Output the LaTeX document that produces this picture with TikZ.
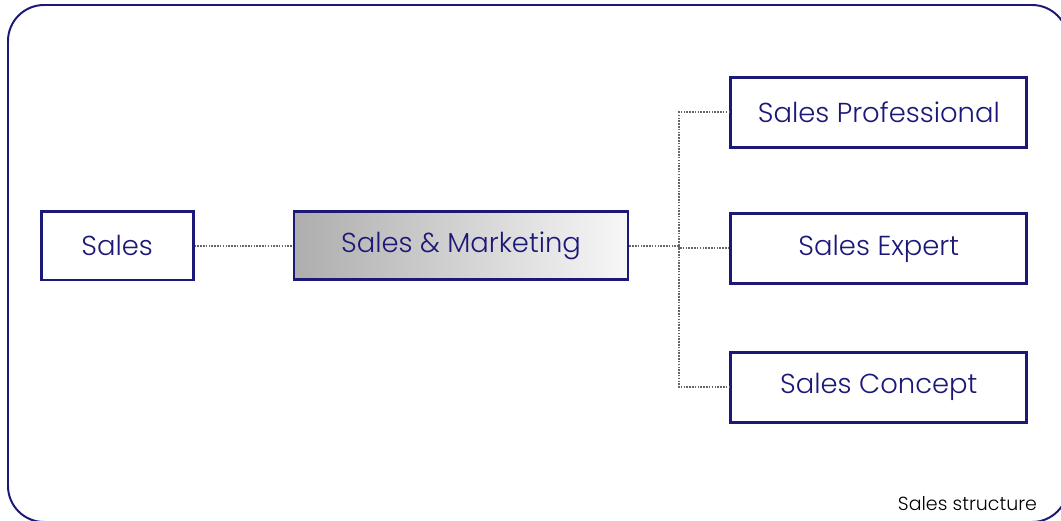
\documentclass[tikz,border=0pt]{standalone}
\usepackage{fontspec}
\setmainfont{Poppins}[UprightFont={* Light}]
\usetikzlibrary{positioning}

\definecolor{navyline}{RGB}{28,24,120}

\begin{document}
\begin{tikzpicture}[
  box/.style={rectangle, draw=navyline, line width=2pt, minimum width=7.4cm,
    minimum height=1.75cm, text=navyline, font=\fontsize{19.5}{22}\selectfont},
  link/.style={draw=black!60, line width=1.3pt, dash pattern=on 1.1pt off 0.9pt}]

  \useasboundingbox (0,0) rectangle (26.525,-13.025);
  \draw[navyline, line width=1.4pt, rounded corners=0.9cm] (0.2,-0.125) rectangle (26.7,-13.05);

  \node[box, minimum width=8.35cm, minimum height=1.7cm, left color=black!32, right color=black!3](SM) at (11.525,-6.14){Sales \& Marketing};
  \node[box, minimum width=3.8cm, minimum height=1.72cm](S)[left=2.45cm of SM]{Sales};
  \node[box](SE)[right=2.5cm of SM, yshift=-0.07cm]{Sales Expert};
  \node[box](SP)[above=1.58cm of SE]{Sales Professional};
  \node[box](SC)[below=1.65cm of SE]{Sales Concept};

  \node[anchor=south east, font=\fontsize{13.5}{15}\selectfont](N) at (26.05,-12.9){Sales structure};

  \coordinate (J) at (16.975,-6.14);
  \draw[link] (S) -- (SM);
  \draw[link] (SM) -- (J) |- (SE.west);
  \draw[link] (J) |- (SP);
  \draw[link] (J) |- (SC);
\end{tikzpicture}
\end{document}
